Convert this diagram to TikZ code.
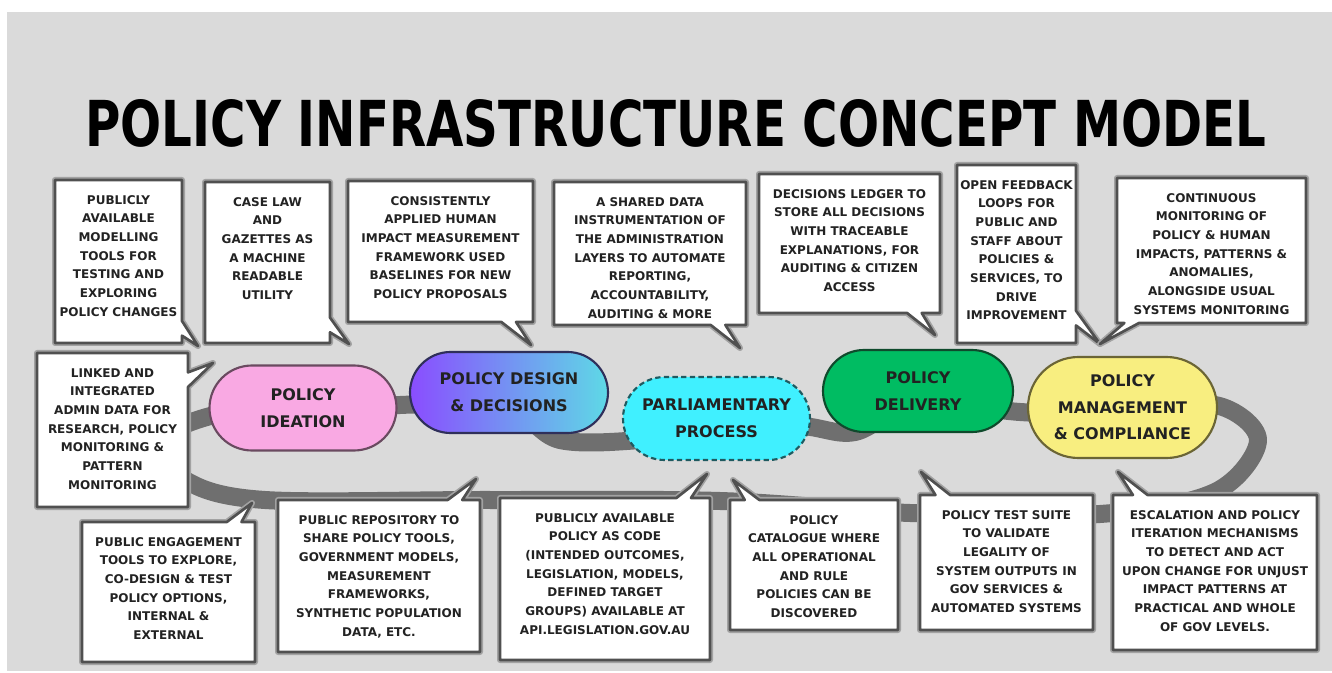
\documentclass[tikz,border=0pt]{standalone}
\usepackage{fontspec}
\usepackage{graphicx}
\setmainfont{DejaVu Sans}
\usetikzlibrary{shapes.misc,shapes.callouts}
\definecolor{bg}{HTML}{DADADA}
\definecolor{bandc}{HTML}{6F6F6F}
\definecolor{boxline}{HTML}{505050}
\definecolor{boxhalo}{HTML}{A2A2A2}
\definecolor{ink}{HTML}{222222}
\definecolor{pinkfill}{HTML}{F9A9E3}
\definecolor{pinkline}{HTML}{6A4A60}
\definecolor{purp}{HTML}{8A4DFF}
\definecolor{cyanA}{HTML}{5ED9E6}
\definecolor{designline}{HTML}{2F2F5A}
\definecolor{parlfill}{HTML}{40F0FF}
\definecolor{parlline}{HTML}{1F5A60}
\definecolor{delivfill}{HTML}{00BC62}
\definecolor{delivline}{HTML}{0F4A2C}
\definecolor{mgmtfill}{HTML}{F8EE80}
\definecolor{mgmtline}{HTML}{6B6535}
\tikzset{
  cbox/.style={rectangle callout, draw=boxline, fill=white, line width=2pt,
    line join=round,
    preaction={draw=boxhalo, line width=4.5pt, line join=round},
    inner sep=0pt, callout pointer width=11pt, text=ink,
    font=\bfseries\fontsize{9}{14}\selectfont},
  pill/.style={rounded rectangle, line width=1.6pt, inner sep=0pt, text=ink,
    align=center, font=\bfseries\fontsize{12}{20}\selectfont},
  bandline/.style={draw=bandc, line width=13.5pt, line join=round},
}
\newcommand\callout[7]{%
  \node[cbox, callout absolute pointer={(#6)},
    minimum width={(#4-#2)*0.75pt}, minimum height={(#5-#3)*0.75pt}]
    (#1) at ({(#2+#4)/2},{(#3+#5)/2})
    {\begin{minipage}[c][\dimexpr(#5pt-#3pt)*3/4-4pt\relax][t]{\dimexpr(#4pt-#2pt)*3/4-2pt\relax}%
      \fontsize{9}{14}\selectfont\bfseries\centering\vspace*{9.5pt}#7\end{minipage}};}
\begin{document}
\begin{tikzpicture}[x=0.75pt,y=-0.75pt]
\useasboundingbox (0,0) rectangle (1332,673);
\fill[white] (0,0) rectangle (1332,673);
\fill[bg] (7,12) rectangle (1332,671);

% loop band
\draw[bandline] plot[smooth cycle, tension=0.55] coordinates {
  (225,413) (303,420) (400,405) (509,410) (560,440) (640,440) (716,428)
  (800,426) (855,432) (918,402) (1020,412) (1122,415) (1215,405)
  (1258,440) (1215,492) (1100,514) (910,513) (720,501) (490,500)
  (265,500) (185,480) (160,440)};

% stages
\node[pill, fill=pinkfill, draw=pinkline, minimum width=140.25pt, minimum height=63.75pt]
  (ideation) at (303,408) {POLICY\\IDEATION};
\node[pill, left color=purp, right color=cyanA, draw=designline, minimum width=148.5pt, minimum height=60.75pt]
  (design) at (509,392.5) {POLICY DESIGN\\\& DECISIONS};
\node[pill, fill=parlfill, draw=parlline, dash pattern=on 4pt off 2.5pt, minimum width=140.25pt, minimum height=62.25pt]
  (parl) at (716.5,418.5) {PARLIAMENTARY\\PROCESS};
\node[pill, fill=delivfill, draw=delivline, minimum width=142.5pt, minimum height=61.5pt]
  (deliv) at (918,391) {POLICY\\DELIVERY};
\node[pill, fill=mgmtfill, draw=mgmtline, minimum width=141.75pt, minimum height=75.75pt]
  (mgmt) at (1122.5,407.5) {POLICY\\MANAGEMENT\\\& COMPLIANCE};

% pointer tips
\coordinate (t1) at (198,346);
\coordinate (t2) at (349,344);
\coordinate (t3) at (531,345);
\coordinate (t4) at (740,348);
\coordinate (t5) at (935,335);
\coordinate (t6) at (1100,344);
\coordinate (t8) at (213,363);
\coordinate (t9) at (252,503);
\coordinate (t10) at (476,479);
\coordinate (t11) at (707,474);
\coordinate (t12) at (733,480);
\coordinate (t13) at (921,472);
\coordinate (t14) at (1118,472);

% callouts
\callout{c1}{55}{180}{182}{343}{t1}{PUBLICLY\\AVAILABLE\\MODELLING\\TOOLS FOR\\TESTING AND\\EXPLORING\\POLICY CHANGES}
\callout{c2}{205}{182}{330}{343}{t2}{CASE LAW\\AND\\GAZETTES AS\\A MACHINE\\READABLE\\UTILITY}
\callout{c3}{348}{181}{533}{322}{t3}{CONSISTENTLY\\APPLIED HUMAN\\IMPACT MEASUREMENT\\FRAMEWORK USED\\BASELINES FOR NEW\\POLICY PROPOSALS}
\callout{c4}{554}{182}{746}{325}{t4}{A SHARED DATA\\INSTRUMENTATION OF\\THE ADMINISTRATION\\LAYERS TO AUTOMATE\\REPORTING,\\ACCOUNTABILITY,\\AUDITING \& MORE}
\callout{c5}{759}{174}{940}{313}{t5}{DECISIONS LEDGER TO\\STORE ALL DECISIONS\\WITH TRACEABLE\\EXPLANATIONS, FOR\\AUDITING \& CITIZEN\\ACCESS}
\callout{c6}{957}{165}{1076}{343}{t6}{OPEN FEEDBACK\\LOOPS FOR\\PUBLIC AND\\STAFF ABOUT\\POLICIES \&\\SERVICES, TO\\DRIVE\\IMPROVEMENT}
\callout{c7}{1117}{178}{1306}{323}{t6}{CONTINUOUS\\MONITORING OF\\POLICY \& HUMAN\\IMPACTS, PATTERNS \&\\ANOMALIES,\\ALONGSIDE USUAL\\SYSTEMS MONITORING}
\callout{c8}{37}{353}{188}{507}{t8}{LINKED AND\\INTEGRATED\\ADMIN DATA FOR\\RESEARCH, POLICY\\MONITORING \&\\PATTERN\\MONITORING}
\callout{c9}{82}{522}{255}{662}{t9}{PUBLIC ENGAGEMENT\\TOOLS TO EXPLORE,\\CO-DESIGN \& TEST\\POLICY OPTIONS,\\INTERNAL \&\\EXTERNAL}
\callout{c10}{278}{500}{480}{652}{t10}{PUBLIC REPOSITORY TO\\SHARE POLICY TOOLS,\\GOVERNMENT MODELS,\\MEASUREMENT\\FRAMEWORKS,\\SYNTHETIC POPULATION\\DATA, ETC.}
\callout{c11}{500}{498}{710}{660}{t11}{PUBLICLY AVAILABLE\\POLICY AS CODE\\(INTENDED OUTCOMES,\\LEGISLATION, MODELS,\\DEFINED TARGET\\GROUPS) AVAILABLE AT\\API.LEGISLATION.GOV.AU}
\callout{c12}{730}{500}{898}{630}{t12}{POLICY\\CATALOGUE WHERE\\ALL OPERATIONAL\\AND RULE\\POLICIES CAN BE\\DISCOVERED}
\callout{c13}{920}{495}{1093}{630}{t13}{POLICY TEST SUITE\\TO VALIDATE\\LEGALITY OF\\SYSTEM OUTPUTS IN\\GOV SERVICES \&\\AUTOMATED SYSTEMS}
\callout{c14}{1113}{495}{1317}{650}{t14}{ESCALATION AND POLICY\\ITERATION MECHANISMS\\TO DETECT AND ACT\\UPON CHANGE FOR UNJUST\\IMPACT PATTERNS AT\\PRACTICAL AND WHOLE\\OF GOV LEVELS.}

% title
\node[inner sep=0pt, text=black, font=\bfseries] (title) at (676,123.5)
  {\resizebox{886pt}{35.25pt}{POLICY INFRASTRUCTURE CONCEPT MODEL}};
\end{tikzpicture}
\end{document}
